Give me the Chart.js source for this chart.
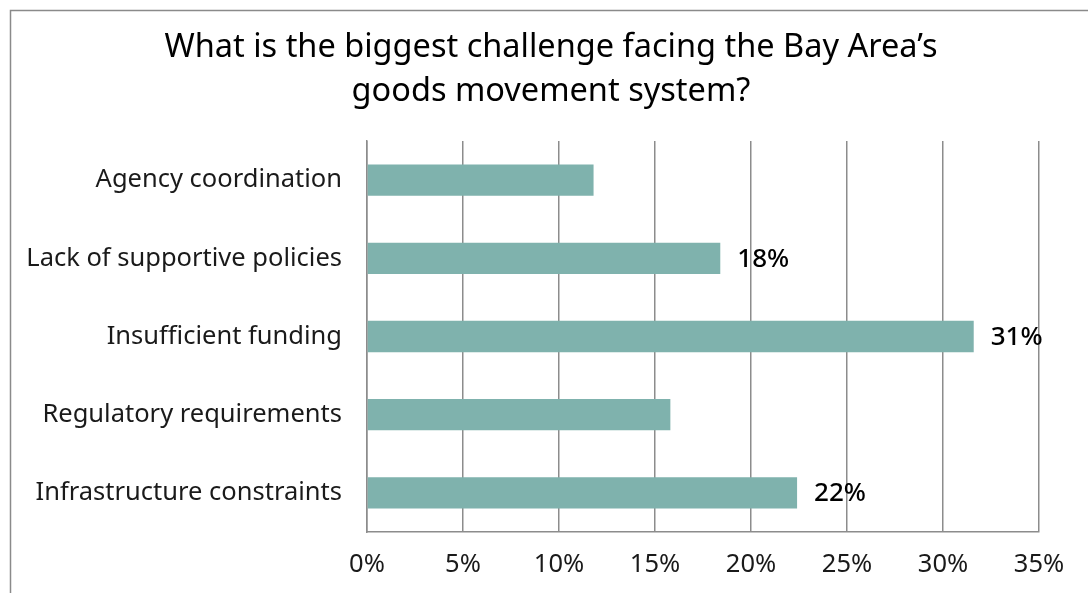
<!DOCTYPE html>
<html>
<head>
<meta charset="utf-8">
<script src="https://cdn.jsdelivr.net/npm/chart.js@4"></script>
<style>
  html, body { margin: 0; padding: 0; background: #fff; }
  #wrap { width: 1088px; height: 593px; position: relative; }
</style>
</head>
<body>
<div id="wrap"><canvas id="myChart" width="1088" height="593"></canvas></div>
<script>
// chart data
const categories = ['Agency coordination', 'Lack of supportive policies', 'Insufficient funding', 'Regulatory requirements', 'Infrastructure constraints'];
const shares = [11.8, 18.4, 31.6, 15.8, 22.4];
const barLabels = ['', '18%', '31%', '', '22%']; // only some bars are labelled
const xTicks = [0, 5, 10, 15, 20, 25, 30, 35];

const titleLines = ['What is the biggest challenge facing the Bay Area\u2019s', 'goods movement system?'];
const fontFam = '"Noto Sans", "Open Sans", sans-serif';

// grey frame round the chart (it runs off the right and bottom edges)
const framePlugin = {
  id: 'frame',
  beforeDraw(chart) {
    const ctx = chart.ctx;
    ctx.save();
    ctx.strokeStyle = '#8a8a8a';
    ctx.lineWidth = 1.5;
    ctx.beginPath();
    ctx.moveTo(10.5, chart.height);
    ctx.lineTo(10.5, 10.5);
    ctx.lineTo(chart.width, 10.5);
    ctx.stroke();
    ctx.restore();
  }
};

// title drawn by hand: the reference centres it a bit right of the canvas middle
const titlePlugin = {
  id: 'myTitle',
  afterDraw(chart) {
    const ctx = chart.ctx;
    ctx.save();
    ctx.font = '32.5px ' + fontFam;
    ctx.fillStyle = '#000';
    ctx.textAlign = 'center';
    ctx.textBaseline = 'middle';
    titleLines.forEach((line, i) => ctx.fillText(line, 551, 48 + i * 44));
    ctx.restore();
  }
};

// value labels next to the bars
const barLabelPlugin = {
  id: 'barLabels',
  afterDatasetsDraw(chart) {
    const ctx = chart.ctx;
    const meta = chart.getDatasetMeta(0);
    ctx.save();
    ctx.font = '500 26px ' + fontFam;
    ctx.fillStyle = '#000';
    ctx.textAlign = 'left';
    ctx.textBaseline = 'middle';
    meta.data.forEach((bar, i) => {
      if (!barLabels[i]) return;
      ctx.fillText(barLabels[i], bar.x + 17, bar.y + 1);
    });
    ctx.restore();
  }
};

const chartData = {
  labels: categories,
  datasets: [{
    data: shares,
    backgroundColor: '#7fb2ad',
    borderWidth: 0,
    barPercentage: 0.4,
    categoryPercentage: 1.0
  }]
};

const config = {
  type: 'bar',
  data: chartData,
  options: {
    indexAxis: 'y',
    responsive: false,
    animation: false,
    layout: { padding: { top: 141, left: 12, right: 49, bottom: 0 } },
    plugins: {
      legend: { display: false },
      tooltip: { enabled: false },
      title: { display: false }
    },
    scales: {
      x: {
        min: 0,
        max: 35,
        afterBuildTicks: scale => { scale.ticks = xTicks.map(v => ({ value: v })); },
        afterFit: scale => { scale.height = 61; },
        grid: { color: '#8c8c8c', lineWidth: 1.5, drawTicks: false },
        border: { color: '#8c8c8c', width: 1.5 },
        ticks: {
          color: '#1a1a1a',
          padding: 17,
          font: { family: fontFam, size: 25.5 },
          callback: v => v + '%'
        }
      },
      y: {
        afterFit: scale => { scale.width = 355; },
        grid: { display: false, drawTicks: false },
        border: { color: '#8c8c8c', width: 1.5 },
        ticks: {
          color: '#1a1a1a',
          padding: 25,
          font: { family: fontFam, size: 25.5 }
        }
      }
    }
  },
  plugins: [framePlugin, titlePlugin, barLabelPlugin]
};

const myChart = new Chart(document.getElementById('myChart'), config);
</script>
</body>
</html>
